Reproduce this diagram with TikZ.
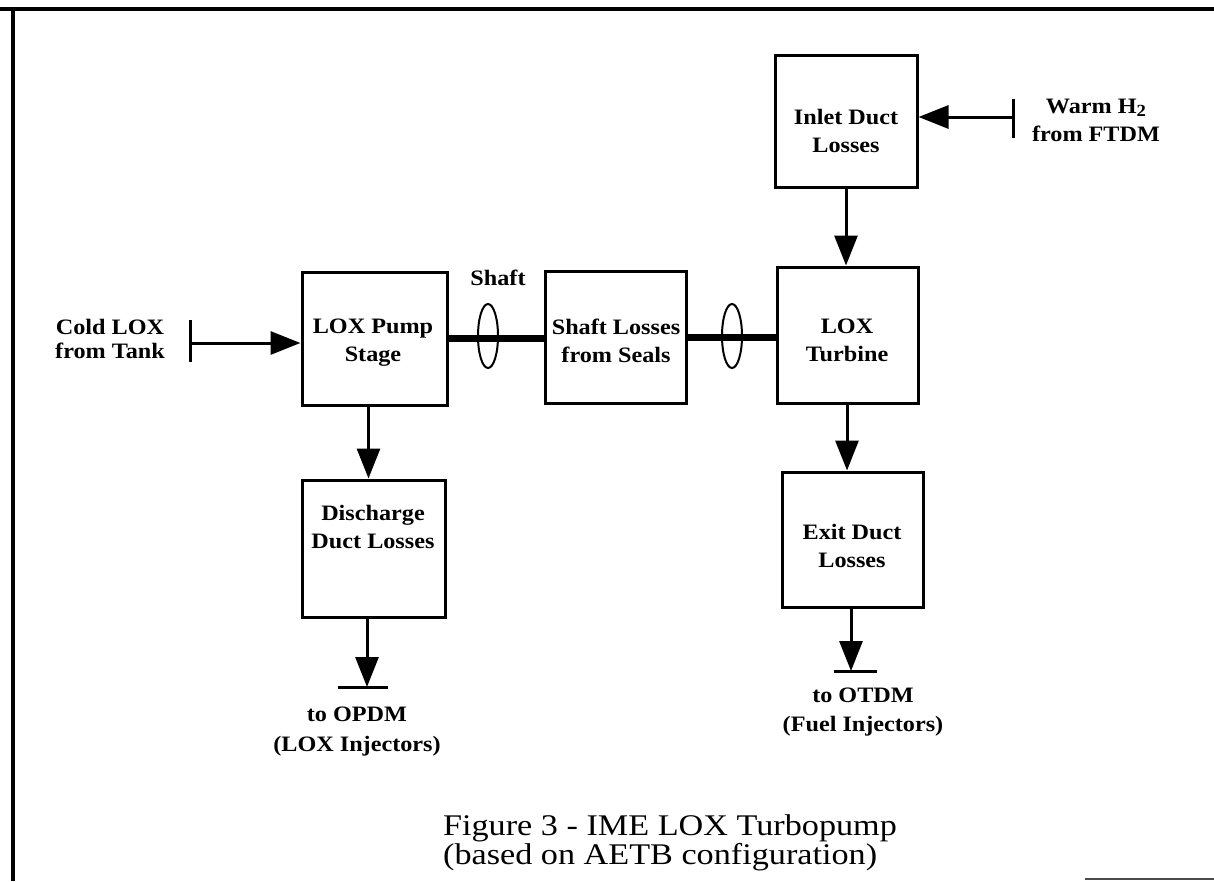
\documentclass[tikz,border=0pt]{standalone}
\usepackage{fontspec}
\setmainfont{Liberation Serif}
\newfontfamily\labfont[FakeStretch=1.1]{Liberation Serif}
\newfontfamily\titfont[FakeStretch=1.14]{Liberation Serif}
\usetikzlibrary{arrows.meta,calc,shapes.geometric}
\tikzset{
  box/.style={draw, line width=3pt, inner sep=0pt},
  lab/.style={font=\labfont\bfseries\fontsize{22}{28}\selectfont, align=center, inner sep=0pt},
  arr/.style={line width=3pt, -{Triangle[length=30pt,width=23pt]}},
  stopbar/.style={line width=3pt},
  shaftline/.style={line width=7pt},
  seal/.style={draw, ellipse, line width=2pt, minimum width=20pt, minimum height=64pt, inner sep=0pt},
  frameline/.style={line width=3.5pt},
  titletext/.style={font=\titfont\fontsize{30}{27}\selectfont, align=left, inner sep=0pt}
}
\begin{document}
\begin{tikzpicture}[x=1pt,y=-1pt]
\useasboundingbox (0,0) rectangle (1214,881);
% frame
\draw[frameline] (0,9) -- (1214,9);
\draw[frameline] (13,9) -- (13,881);
\draw[line width=1.5pt, black!70] (1085,879) -- (1214,879);

% boxes
\node[box, minimum width=142pt, minimum height=132pt] (inlet) at (846,121) {};
\node[box, minimum width=141pt, minimum height=136pt] (turb) at (847.5,335) {};
\node[box, minimum width=141pt, minimum height=132pt] (shaftb) at (615.5,337) {};
\node[box, minimum width=145pt, minimum height=133pt] (pump) at (374.5,338.5) {};
\node[box, minimum width=143pt, minimum height=137pt] (disch) at (373.5,548.5) {};
\node[box, minimum width=141pt, minimum height=135pt] (exit) at (852.5,539.5) {};

% box texts
\node[lab] (tinlet) at (846,131) {Inlet Duct\\Losses};
\node[lab] (tturb) at (847,340) {LOX\\Turbine};
\node[lab] (tshaftb) at (616,341) {Shaft Losses\\from Seals};
\node[lab] (tpump) at (373,343) {LOX Pump\\Stage};
\node[lab] (tdisch) at (373,527) {Discharge\\Duct Losses};
\node[lab] (texit) at (852,546) {Exit Duct\\Losses};

% outside texts
\node[lab, font=\labfont\bfseries\fontsize{22}{24}\selectfont] (tcold) at (110,339) {Cold LOX\\from Tank};
\node[lab] (twarm) at (1096,120) {Warm H\raisebox{-0.35ex}{\fontsize{17}{17}\selectfont 2}\\from FTDM};
\node[lab] (tshaft) at (498,278) {Shaft};
\node[lab, font=\labfont\bfseries\fontsize{22}{30}\selectfont] (topdm) at (357,732) {to OPDM\\(LOX Injectors)};
\node[lab, font=\labfont\bfseries\fontsize{22}{29}\selectfont] (totdm) at (863,712) {to OTDM\\(Fuel Injectors)};
\node[titletext] (title) at (670,843) {Figure 3 - IME LOX Turbopump\\(based on AETB configuration)};

% stop bars
\coordinate (warmbar) at (1013,117);
\coordinate (coldbar) at (190,343);
\coordinate (opdmbar) at (363,687);
\coordinate (otdmbar) at (855.5,671);
\draw[stopbar] ($(warmbar)+(0,-18)$) -- ($(warmbar)+(0,21)$);
\draw[stopbar] ($(coldbar)+(0,-23)$) -- ($(coldbar)+(0,19)$);
\draw[stopbar] ($(opdmbar)+(-25,0)$) -- ($(opdmbar)+(25,0)$);
\draw[stopbar] ($(otdmbar)+(-21.5,0)$) -- ($(otdmbar)+(21.5,0)$);

% flow arrows
\draw[arr] (warmbar) -- (warmbar -| inlet.east);
\draw[arr] (coldbar) -- (coldbar -| pump.west);
\draw[arr] (inlet.south) -- (inlet.south |- turb.north);
\draw[arr] ($(pump.south)+(-6,0)$) coordinate (pd) -- (pd |- disch.north);
\draw[arr] ($(turb.south)+(-0.5,0)$) coordinate (te) -- (te |- exit.north);
\draw[arr] ($(disch.south)+(-6.5,0)$) coordinate (dd) -- (dd |- opdmbar);
\draw[arr] ($(exit.south)+(-1.5,0)$) coordinate (ed) -- (ed |- otdmbar);

% shaft
\draw[shaftline] (pump.east) -- (pump.east -| shaftb.west);
\draw[shaftline] (shaftb.east) -- (shaftb.east -| turb.west);
\node[seal] (seal1) at (488,336) {};
\node[seal] (seal2) at (732,336) {};
\end{tikzpicture}
\end{document}
